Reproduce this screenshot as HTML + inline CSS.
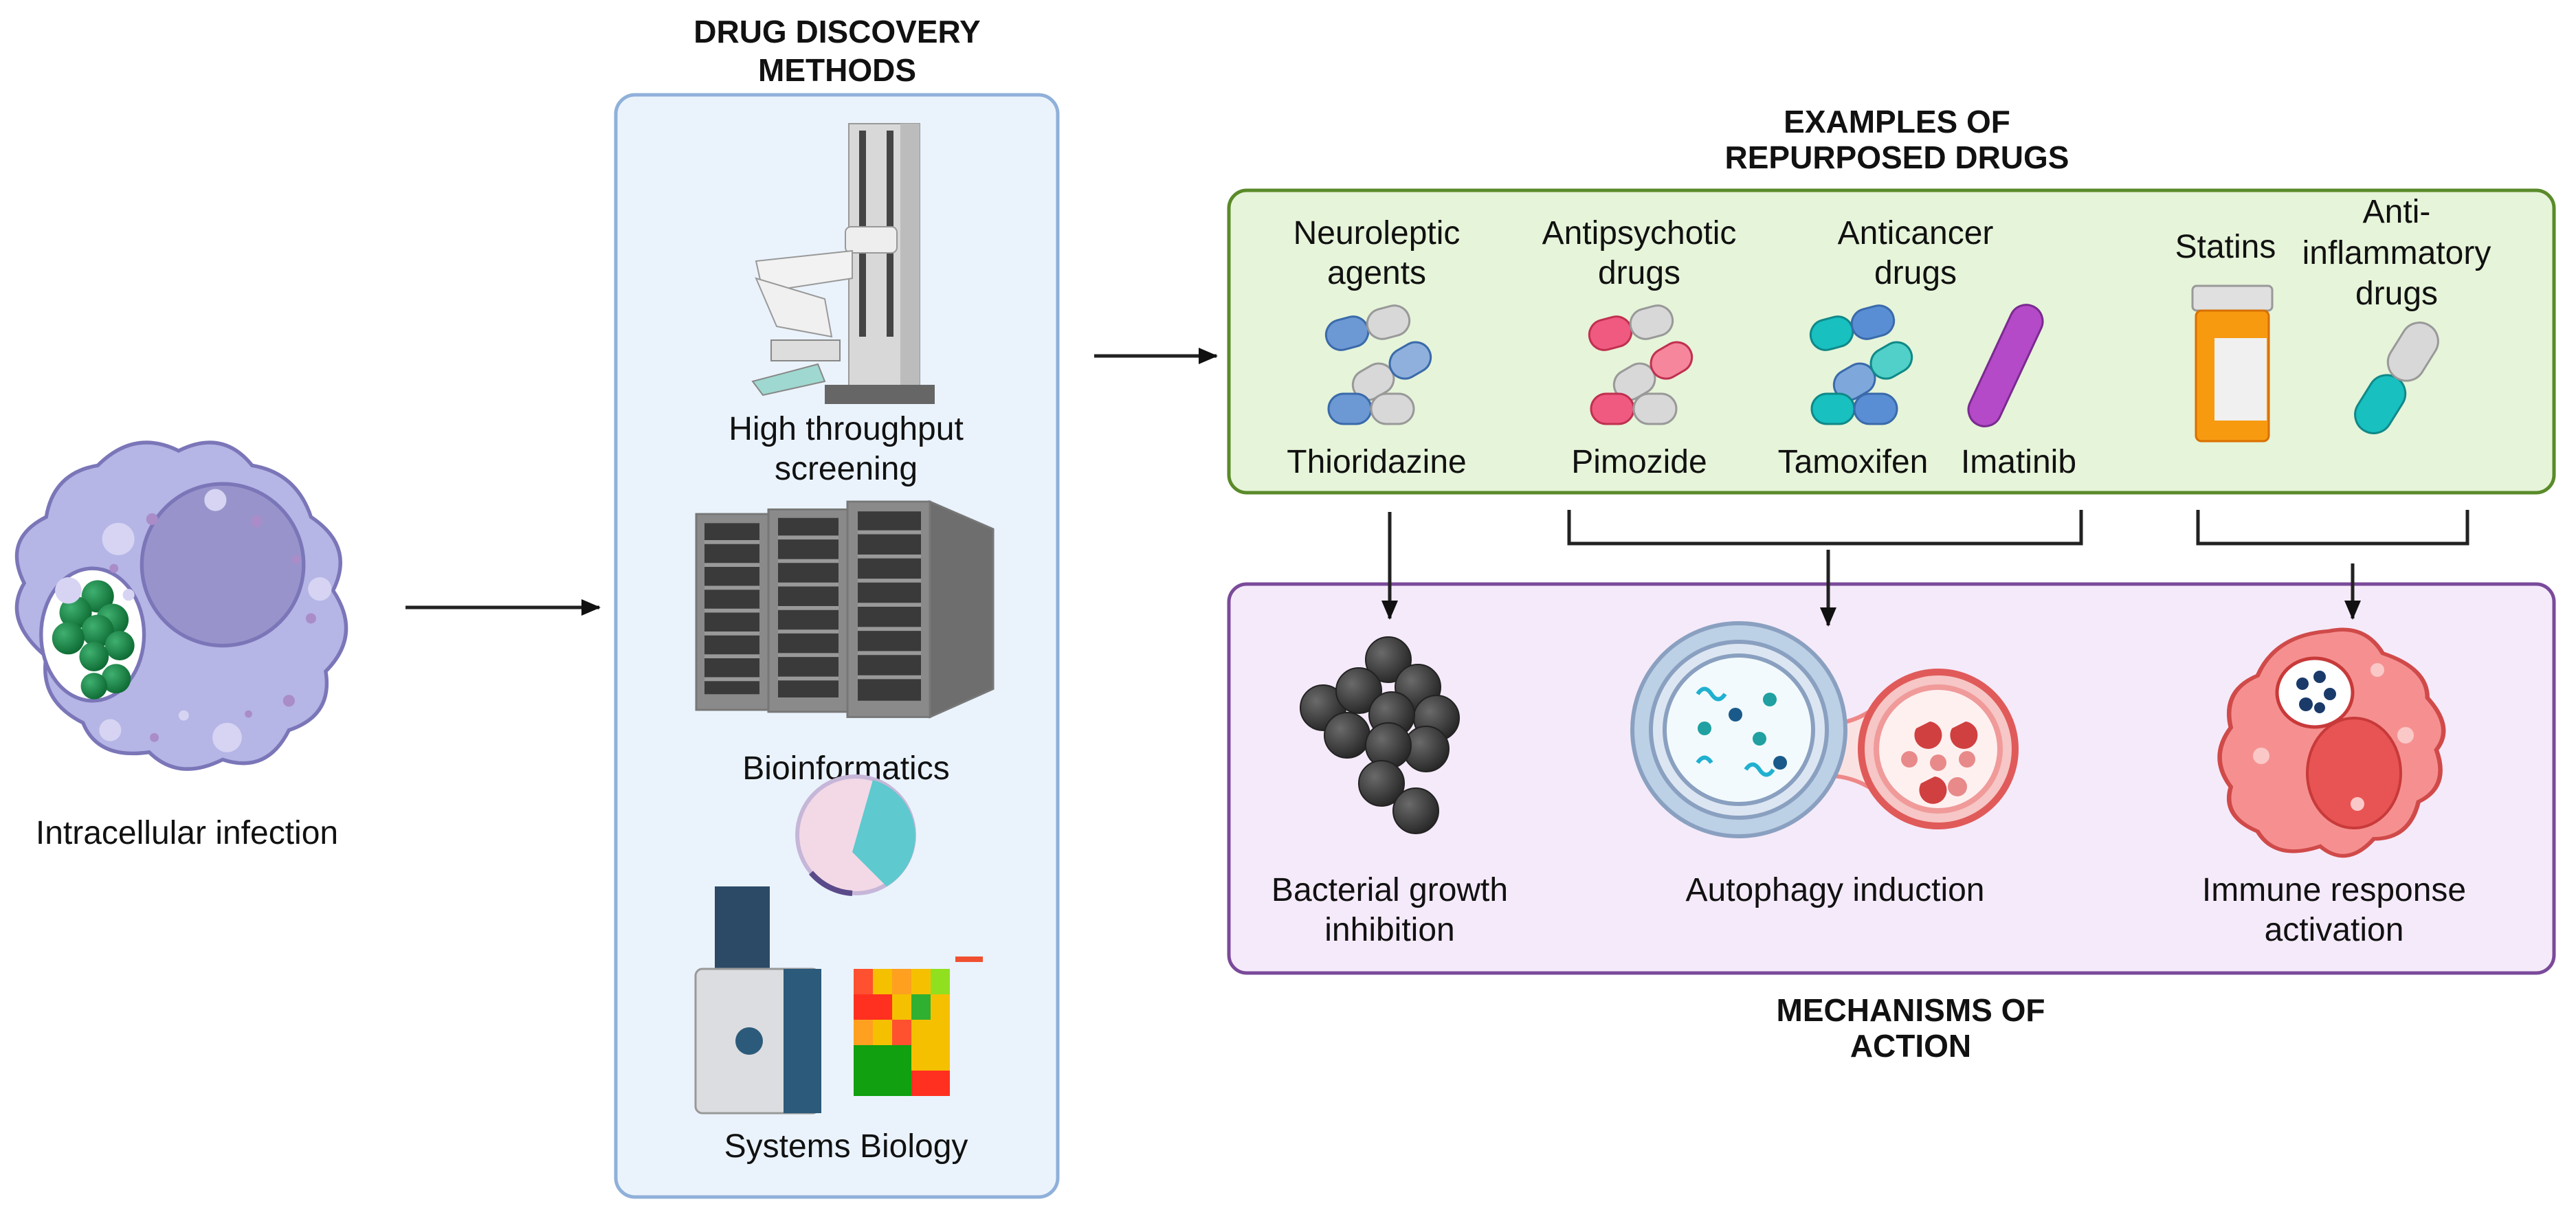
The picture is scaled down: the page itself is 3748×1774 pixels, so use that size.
<!DOCTYPE html>
<html><head><meta charset="utf-8"><style>
html,body{margin:0;padding:0;background:#fff;}
svg{display:block;}
text{font-family:"Liberation Sans",sans-serif;fill:#111;}
.t{font-size:48px;text-anchor:middle;}
.h{font-size:46px;font-weight:bold;text-anchor:middle;}
</style></head><body>
<svg width="3748" height="1774" viewBox="0 0 3748 1774" xmlns="http://www.w3.org/2000/svg">
<defs>
<marker id="ar" markerWidth="28" markerHeight="24" refX="26" refY="12" orient="auto" markerUnits="userSpaceOnUse" viewBox="0 0 28 24"><path d="M0,0 L28,12 L0,24 z" fill="#111"/></marker>
<radialGradient id="bk" cx="0.35" cy="0.35" r="0.7"><stop offset="0" stop-color="#6a6a6a"/><stop offset="1" stop-color="#262626"/></radialGradient>
<radialGradient id="gr" cx="0.35" cy="0.35" r="0.7"><stop offset="0" stop-color="#3fb070"/><stop offset="1" stop-color="#0d6a32"/></radialGradient>
</defs>

<!-- infected cell -->
<g transform="translate(262,870) scale(1.07) translate(-262,-870)">
<path d="M150,690 Q200,640 260,670 Q320,640 360,690 Q420,700 440,760 Q500,800 470,860 Q510,920 460,970 Q470,1030 410,1050 Q380,1110 320,1090 Q260,1120 220,1080 Q150,1090 130,1040 Q70,1010 80,950 Q20,900 50,850 Q20,790 80,760 Q90,700 150,690 Z" fill="#b5b5e6" stroke="#7b76b8" stroke-width="5"/>
<circle cx="320" cy="825" r="110" fill="#9894cb" stroke="#7b76b8" stroke-width="5"/>
<ellipse cx="143" cy="920" rx="70" ry="90" fill="#fff" stroke="#7b76b8" stroke-width="5"/>
<g fill="url(#gr)"><circle cx="150" cy="868" r="22"/><circle cx="120" cy="890" r="22"/><circle cx="170" cy="900" r="22"/><circle cx="150" cy="915" r="22"/><circle cx="110" cy="925" r="22"/><circle cx="180" cy="935" r="20"/><circle cx="145" cy="950" r="20"/><circle cx="175" cy="980" r="20"/><circle cx="145" cy="990" r="18"/></g>
<g fill="#d6d4f2"><circle cx="178" cy="790" r="22"/><circle cx="110" cy="860" r="18"/><circle cx="452" cy="858" r="16"/><circle cx="310" cy="737" r="15"/><circle cx="326" cy="1060" r="20"/><circle cx="167" cy="1050" r="15"/><circle cx="192" cy="866" r="8"/><circle cx="267" cy="1030" r="7"/></g>
<g fill="#a98cc8"><circle cx="224" cy="763" r="8"/><circle cx="366" cy="766" r="8"/><circle cx="440" cy="898" r="7"/><circle cx="410" cy="1010" r="8"/><circle cx="227" cy="1060" r="6"/><circle cx="420" cy="818" r="6"/><circle cx="172" cy="830" r="6"/><circle cx="355" cy="1028" r="5"/></g>
</g>
<text class="t" x="272" y="1228">Intracellular infection</text>

<line x1="590" y1="884" x2="872" y2="884" stroke="#222" stroke-width="5" marker-end="url(#ar)"/>
<line x1="1592" y1="518" x2="1770" y2="518" stroke="#222" stroke-width="5" marker-end="url(#ar)"/>

<!-- blue box -->
<text class="h" x="1218" y="62">DRUG DISCOVERY</text>
<text class="h" x="1218" y="118">METHODS</text>
<rect x="896" y="138" width="643" height="1604" rx="28" fill="#eaf3fc" stroke="#8fb0d9" stroke-width="5"/>

<!-- robot -->
<rect x="1235" y="180" width="103" height="390" fill="#d8d8d8" stroke="#999" stroke-width="2"/>
<rect x="1250" y="190" width="10" height="300" fill="#444"/><rect x="1290" y="190" width="10" height="300" fill="#444"/>
<rect x="1310" y="180" width="28" height="390" fill="#bcbcbc"/>
<rect x="1200" y="560" width="160" height="28" fill="#666"/>
<rect x="1230" y="330" width="75" height="38" rx="8" fill="#eee" stroke="#999" stroke-width="2"/>
<path d="M1100,380 L1240,365 L1240,405 L1110,425 Z" fill="#f2f2f2" stroke="#999" stroke-width="2"/>
<path d="M1100,405 L1200,435 L1210,490 L1130,475 Z" fill="#f0f0f0" stroke="#999" stroke-width="2"/>
<rect x="1122" y="495" width="100" height="30" fill="#ddd" stroke="#888" stroke-width="2"/>
<path d="M1095,555 L1190,530 L1200,555 L1110,575 Z" fill="#9fd8d0" stroke="#888" stroke-width="2"/>
<text class="t" x="1231" y="640">High throughput</text>
<text class="t" x="1231" y="698">screening</text>

<!-- servers -->
<g transform="translate(0,730) scale(1,0.95) translate(0,-693)">
<g stroke="#777" stroke-width="3">
<rect x="1013" y="712" width="105" height="300" fill="#8a8a8a"/>
<rect x="1118" y="705" width="115" height="310" fill="#8a8a8a"/>
<rect x="1233" y="693" width="120" height="330" fill="#8a8a8a"/>
<path d="M1353,693 L1445,735 L1445,980 L1353,1023 Z" fill="#6e6e6e"/>
</g>
<g fill="#3a3a3a">
<rect x="1025" y="726" width="80" height="262"/><rect x="1132" y="718" width="88" height="275"/><rect x="1248" y="708" width="92" height="290"/>
</g>
<g stroke="#999" stroke-width="6">
<line x1="1025" y1="755" x2="1105" y2="755"/><line x1="1025" y1="790" x2="1105" y2="790"/><line x1="1025" y1="825" x2="1105" y2="825"/><line x1="1025" y1="860" x2="1105" y2="860"/><line x1="1025" y1="895" x2="1105" y2="895"/><line x1="1025" y1="930" x2="1105" y2="930"/><line x1="1025" y1="965" x2="1105" y2="965"/>
<line x1="1132" y1="748" x2="1220" y2="748"/><line x1="1132" y1="784" x2="1220" y2="784"/><line x1="1132" y1="820" x2="1220" y2="820"/><line x1="1132" y1="856" x2="1220" y2="856"/><line x1="1132" y1="892" x2="1220" y2="892"/><line x1="1132" y1="928" x2="1220" y2="928"/><line x1="1132" y1="964" x2="1220" y2="964"/>
<line x1="1248" y1="740" x2="1340" y2="740"/><line x1="1248" y1="777" x2="1340" y2="777"/><line x1="1248" y1="814" x2="1340" y2="814"/><line x1="1248" y1="851" x2="1340" y2="851"/><line x1="1248" y1="888" x2="1340" y2="888"/><line x1="1248" y1="925" x2="1340" y2="925"/><line x1="1248" y1="962" x2="1340" y2="962"/>
</g>
</g>
<text class="t" x="1231" y="1134">Bioinformatics</text>

<!-- systems biology -->
<circle cx="1245" cy="1215" r="85" fill="#f3d9e6" stroke="#c6b6d8" stroke-width="6"/>
<path d="M1270,1135 A85,85 0 0 1 1290,1290 L1240,1240 Z" fill="#5ec9cf"/>
<path d="M1180,1270 A85,85 0 0 0 1240,1300" stroke="#5a4a8a" stroke-width="8" fill="none"/>
<path d="M1040,1290 L1120,1290 L1120,1410 L1040,1410 Z" fill="#2c4a66"/>
<rect x="1012" y="1410" width="180" height="210" rx="10" fill="#dcdde0" stroke="#999" stroke-width="3"/>
<rect x="1140" y="1410" width="55" height="210" fill="#2c5a7a"/>
<circle cx="1090" cy="1515" r="20" fill="#2c5a7a"/>
<g>
<rect x="1242" y="1410" width="140" height="185" fill="#f5c000"/>
<rect x="1242" y="1410" width="28" height="37" fill="#ff5030"/><rect x="1298" y="1410" width="28" height="37" fill="#ffa020"/><rect x="1354" y="1410" width="28" height="37" fill="#90e020"/>
<rect x="1242" y="1447" width="56" height="37" fill="#ff3020"/><rect x="1326" y="1447" width="28" height="37" fill="#30b030"/>
<rect x="1242" y="1484" width="28" height="37" fill="#ffa020"/><rect x="1298" y="1484" width="28" height="37" fill="#ff5030"/>
<rect x="1242" y="1521" width="84" height="74" fill="#10a010"/><rect x="1326" y="1558" width="56" height="37" fill="#ff3020"/>
<rect x="1390" y="1392" width="40" height="8" fill="#f05030"/>
</g>
<text class="t" x="1231" y="1684">Systems Biology</text>

<!-- green box -->
<text class="h" x="2760" y="193">EXAMPLES OF</text>
<text class="h" x="2760" y="245">REPURPOSED DRUGS</text>
<rect x="1788" y="277" width="1928" height="440" rx="26" fill="#e6f4d9" stroke="#5a8a2a" stroke-width="5"/>
<text class="t" x="2003" y="355">Neuroleptic</text><text class="t" x="2003" y="413">agents</text>
<text class="t" x="2385" y="355">Antipsychotic</text><text class="t" x="2385" y="413">drugs</text>
<text class="t" x="2787" y="355">Anticancer</text><text class="t" x="2787" y="413">drugs</text>
<text class="t" x="3238" y="375">Statins</text>
<text class="t" x="3487" y="324">Anti-</text><text class="t" x="3487" y="384">inflammatory</text><text class="t" x="3487" y="443">drugs</text>
<text class="t" x="2003" y="688">Thioridazine</text>
<text class="t" x="2385" y="688">Pimozide</text>
<text class="t" x="2696" y="688">Tamoxifen</text>
<text class="t" x="2937" y="688">Imatinib</text>

<!-- capsules -->
<g stroke-width="3">
<g transform="translate(1990,477) rotate(-15)"><rect x="-62" y="-22" width="62" height="44" rx="22" fill="#6c98d4" stroke="#3a6aaa"/><rect x="0" y="-22" width="62" height="44" rx="22" fill="#d8d8d8" stroke="#999"/></g>
<g transform="translate(2025,540) rotate(-30)"><rect x="-62" y="-22" width="62" height="44" rx="22" fill="#d8d8d8" stroke="#999"/><rect x="0" y="-22" width="62" height="44" rx="22" fill="#8fb0dc" stroke="#3a6aaa"/></g>
<g transform="translate(1995,595)"><rect x="-62" y="-22" width="62" height="44" rx="22" fill="#6c98d4" stroke="#3a6aaa"/><rect x="0" y="-22" width="62" height="44" rx="22" fill="#d8d8d8" stroke="#999"/></g>
<g transform="translate(2373,477) rotate(-15)"><rect x="-62" y="-22" width="62" height="44" rx="22" fill="#f05a80" stroke="#c03050"/><rect x="0" y="-22" width="62" height="44" rx="22" fill="#d8d8d8" stroke="#999"/></g>
<g transform="translate(2405,540) rotate(-30)"><rect x="-62" y="-22" width="62" height="44" rx="22" fill="#d8d8d8" stroke="#999"/><rect x="0" y="-22" width="62" height="44" rx="22" fill="#f5869c" stroke="#c03050"/></g>
<g transform="translate(2377,595)"><rect x="-62" y="-22" width="62" height="44" rx="22" fill="#f05a80" stroke="#c03050"/><rect x="0" y="-22" width="62" height="44" rx="22" fill="#d8d8d8" stroke="#999"/></g>
<g transform="translate(2695,477) rotate(-15)"><rect x="-62" y="-22" width="62" height="44" rx="22" fill="#18c0c0" stroke="#108888"/><rect x="0" y="-22" width="62" height="44" rx="22" fill="#5a8ed4" stroke="#3a6aaa"/></g>
<g transform="translate(2725,540) rotate(-30)"><rect x="-62" y="-22" width="62" height="44" rx="22" fill="#7ea8dc" stroke="#3a6aaa"/><rect x="0" y="-22" width="62" height="44" rx="22" fill="#50d0c8" stroke="#108888"/></g>
<g transform="translate(2698,595)"><rect x="-62" y="-22" width="62" height="44" rx="22" fill="#18c0c0" stroke="#108888"/><rect x="0" y="-22" width="62" height="44" rx="22" fill="#5a8ed4" stroke="#3a6aaa"/></g>
<g transform="translate(2918,532) rotate(-65)"><rect x="-95" y="-24" width="190" height="48" rx="24" fill="#b44ac8" stroke="#7a2a90"/></g>
<g transform="translate(3487,550) rotate(-58)"><rect x="-90" y="-27" width="90" height="54" rx="27" fill="#18c0c0" stroke="#108888"/><rect x="0" y="-27" width="90" height="54" rx="27" fill="#d8d8d8" stroke="#999"/></g>
</g>
<rect x="3190" y="416" width="116" height="36" rx="6" fill="#e0e0e0" stroke="#999" stroke-width="3"/>
<rect x="3195" y="452" width="106" height="190" rx="8" fill="#f79a10" stroke="#d87000" stroke-width="3"/>
<rect x="3222" y="492" width="76" height="120" fill="#f0f0f0"/>

<!-- purple box -->
<rect x="1788" y="850" width="1928" height="566" rx="26" fill="#f5eaf9" stroke="#7a4a9a" stroke-width="5"/>

<!-- connectors -->
<g stroke="#222" stroke-width="5" fill="none">
<line x1="2022" y1="745" x2="2022" y2="900" marker-end="url(#ar)"/>
<polyline points="2283,742 2283,791 3028,791 3028,742"/>
<line x1="2660" y1="800" x2="2660" y2="910" marker-end="url(#ar)"/>
<polyline points="3198,742 3198,791 3590,791 3590,742"/>
<line x1="3423" y1="820" x2="3423" y2="900" marker-end="url(#ar)"/>
</g>

<text class="h" x="2780" y="1486">MECHANISMS OF</text>
<text class="h" x="2780" y="1538">ACTION</text>
<text class="t" x="2022" y="1311">Bacterial growth</text><text class="t" x="2022" y="1369">inhibition</text>
<text class="t" x="2670" y="1311">Autophagy induction</text>
<text class="t" x="3396" y="1311">Immune response</text><text class="t" x="3396" y="1369">activation</text>

<!-- bacteria -->
<g fill="url(#bk)" stroke="#222" stroke-width="2">
<circle cx="2020" cy="960" r="33"/><circle cx="1925" cy="1030" r="33"/><circle cx="2063" cy="1000" r="33"/><circle cx="1977" cy="1005" r="33"/><circle cx="2090" cy="1045" r="33"/><circle cx="1960" cy="1070" r="33"/><circle cx="2025" cy="1040" r="33"/><circle cx="2075" cy="1090" r="33"/><circle cx="2020" cy="1085" r="33"/><circle cx="2010" cy="1140" r="33"/><circle cx="2060" cy="1180" r="33"/>
</g>

<!-- autophagy -->
<path d="M2600,1040 Q2680,1075 2740,1020 L2740,1160 Q2680,1110 2600,1140 Z" fill="#fbe2e2" stroke="#e88" stroke-width="6"/>
<circle cx="2820" cy="1090" r="112" fill="#f7c6c6" stroke="#e05a5a" stroke-width="10"/>
<circle cx="2820" cy="1090" r="90" fill="#fff0f0" stroke="#f09a9a" stroke-width="8"/>
<circle cx="2530" cy="1062" r="155" fill="#bcd0e6" stroke="#8aa0c0" stroke-width="6"/>
<circle cx="2530" cy="1062" r="128" fill="#dce6f2" stroke="#8aa0c0" stroke-width="6"/>
<circle cx="2530" cy="1062" r="108" fill="#f2fafd" stroke="#8aa0c0" stroke-width="6"/>
<g fill="#1a5a8a"><circle cx="2525" cy="1040" r="10"/><circle cx="2590" cy="1110" r="10"/></g>
<g fill="#20a0a0"><circle cx="2480" cy="1060" r="10"/><circle cx="2575" cy="1018" r="10"/><circle cx="2560" cy="1075" r="10"/></g>
<g stroke="#20b0d0" stroke-width="6" fill="none"><path d="M2470,1010 q10,-15 20,0 t20,0"/><path d="M2540,1120 q10,-15 20,0 t20,0"/><path d="M2470,1110 q10,-15 20,0"/></g>
<g fill="#d04040"><path d="M2788,1060 a20,20 0 1 0 20,-10 l-20,10z"/><path d="M2840,1060 a20,20 0 1 0 20,-10 l-20,10z"/><path d="M2795,1140 a20,20 0 1 0 20,-10 l-20,10z"/></g>
<g fill="#e88a8a"><circle cx="2778" cy="1105" r="12"/><circle cx="2820" cy="1110" r="12"/><circle cx="2862" cy="1105" r="12"/><circle cx="2848" cy="1145" r="14"/></g>

<!-- immune cell -->
<g transform="translate(3394,1075) scale(1.3,1.08) translate(-3394,-1075)">
<path d="M3390,930 Q3430,920 3450,960 Q3500,980 3500,1020 Q3530,1060 3510,1090 Q3525,1140 3490,1160 Q3480,1210 3440,1210 Q3410,1250 3380,1220 Q3330,1240 3310,1200 Q3270,1180 3280,1140 Q3255,1100 3280,1060 Q3270,1010 3310,990 Q3330,935 3390,930 Z" fill="#f69090" stroke="#d04a4a" stroke-width="5"/>
</g>
<ellipse cx="3425" cy="1125" rx="68" ry="80" fill="#e85454" stroke="#c83a3a" stroke-width="4"/>
<ellipse cx="3368" cy="1008" rx="55" ry="50" fill="#fff" stroke="#c83a3a" stroke-width="5"/>
<g fill="#1a3a6a"><circle cx="3350" cy="995" r="9"/><circle cx="3375" cy="985" r="9"/><circle cx="3390" cy="1010" r="9"/><circle cx="3355" cy="1025" r="10"/><circle cx="3375" cy="1030" r="8"/></g>
<g fill="#fbc8c8"><circle cx="3459" cy="975" r="10"/><circle cx="3500" cy="1070" r="12"/><circle cx="3290" cy="1100" r="12"/><circle cx="3430" cy="1170" r="10"/></g>
</svg>
</body></html>
